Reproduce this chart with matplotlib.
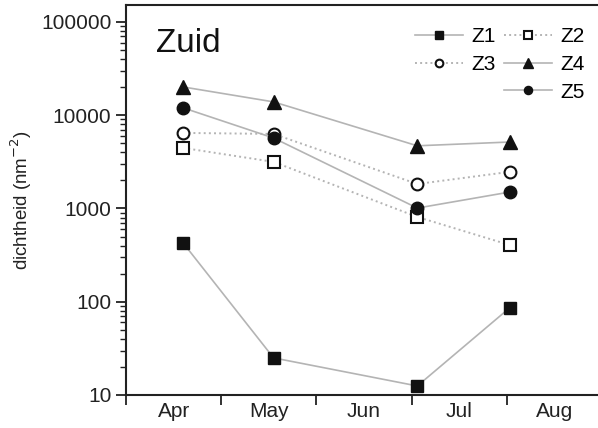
import numpy as np
import matplotlib
matplotlib.use('Agg')
import matplotlib.pyplot as plt
from matplotlib.ticker import FixedLocator, FuncFormatter, LogLocator, NullFormatter

plt.rcParams['font.family'] = ['Liberation Sans', 'DejaVu Sans']
plt.rcParams['font.size'] = 15

# sampling dates, in months counted from 1 April
months = ['Apr', 'May', 'Jun', 'Jul', 'Aug']
x_dates = [0.60, 1.55, 3.06, 4.03]

z1 = [427, 25, 12.5, 86]
z2 = [4460, 3160, 811, 406]
z3 = [6460, 6300, 1830, 2470]
z4 = [20100, 13900, 4700, 5160]
z5 = [12000, 5700, 1010, 1500]

line_grey = '#b4b4b4'

fig = plt.figure(figsize=(5.98, 4.28), dpi=100)
ax = fig.add_axes([126/598, 33/428, 476/598, 390/428])

h1, = ax.plot(x_dates, z1, '-', color=line_grey, lw=1.2, marker='s', ms=8,
              mfc='#111111', mec='#111111', label='Z1')
h2, = ax.plot(x_dates, z2, ':', color=line_grey, lw=1.4, marker='s', ms=8,
              mfc='white', mec='#111111', mew=1.5, label='Z2')
h3, = ax.plot(x_dates, z3, ':', color=line_grey, lw=1.4, marker='o', ms=8.5,
              mfc='white', mec='#111111', mew=1.5, label='Z3')
h4, = ax.plot(x_dates, z4, '-', color=line_grey, lw=1.2, marker='^', ms=10,
              mfc='#111111', mec='#111111', label='Z4')
h5, = ax.plot(x_dates, z5, '-', color=line_grey, lw=1.2, marker='o', ms=9,
              mfc='#111111', mec='#111111', label='Z5')

ax.set_yscale('log')
ax.set_ylim(10, 1.52e5)
ax.set_xlim(0, 5)

ax.yaxis.set_major_locator(FixedLocator([10, 100, 1000, 10000, 100000]))
ax.yaxis.set_major_formatter(FuncFormatter(lambda v, p: '%d' % v))
ax.yaxis.set_minor_locator(LogLocator(base=10, subs=np.arange(2, 10)))
ax.yaxis.set_minor_formatter(NullFormatter())

ax.xaxis.set_major_locator(FixedLocator(np.arange(0, 6)))
ax.xaxis.set_major_formatter(NullFormatter())
ax.xaxis.set_minor_locator(FixedLocator(np.arange(0.5, 5)))
ax.set_xticklabels(months, minor=True)

ax.tick_params(which='major', direction='out', length=7, width=1.3, color='#222222',
               labelcolor='#222222', labelsize=15)
ax.tick_params(which='minor', axis='y', direction='out', length=4, width=1.0, color='#222222')
ax.tick_params(which='minor', axis='x', length=0, labelsize=15, labelcolor='#222222', pad=5)

for s in ax.spines.values():
    s.set_linewidth(1.5)
    s.set_color('#222222')

ax.set_ylabel('dichtheid (nm$^{-2}$)', fontsize=13.5, color='#222222', labelpad=5)

ax.text(0.062, 0.90, 'Zuid', transform=ax.transAxes, ha='left', va='center',
        fontsize=24, color='#111111')

blank = plt.Line2D([], [], linestyle='none', marker='none')
ax.legend([h1, h3, blank, h2, h4, h5], ['Z1', 'Z3', '', 'Z2', 'Z4', 'Z5'],
          ncol=2, frameon=False, loc='upper right', bbox_to_anchor=(0.99, 0.975),
          handlelength=2.3, handletextpad=0.4, columnspacing=0.4, markerscale=0.65,
          labelspacing=0.42, fontsize=15, borderaxespad=0.2)

fig.savefig('out.png', dpi=100)
